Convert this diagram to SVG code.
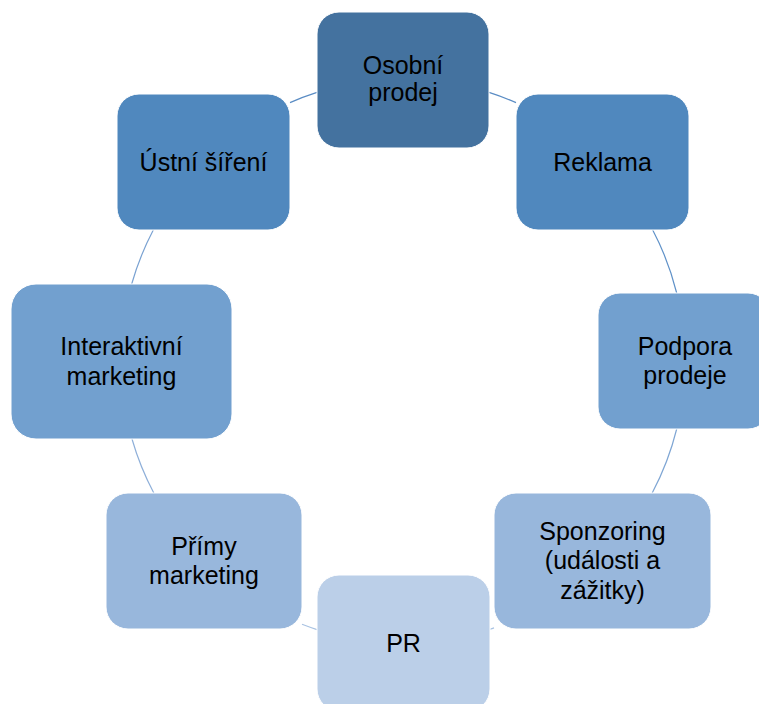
<svg xmlns="http://www.w3.org/2000/svg" width="759" height="704" viewBox="0 0 759 704">
<style>
.box{stroke:#ffffff;stroke-width:1}
.lbl{font-family:"Liberation Sans",Arial,sans-serif;font-size:25px;fill:#000;text-anchor:middle}
.arc{fill:none;stroke:#7DA3D1;stroke-width:1.2}
</style>
<rect width="759" height="704" fill="#ffffff"/>
<g id="connectors">
<path class="arc" style="stroke:#5A8CC4" d="M489,92.4 A282,282 0 0 1 516,102.6"/>
<path class="arc" style="stroke:#5F91C8" d="M652.7,230 A282,282 0 0 1 676.7,293"/>
<path class="arc" style="stroke:#7FA6D4" d="M676.7,429 A282,282 0 0 1 652.2,493"/>
<path class="arc" style="stroke:#A8C2E2" d="M494,627.9 A282,282 0 0 1 490,629.2"/>
<path class="arc" style="stroke:#A8C2E2" d="M317,629.6 A282,282 0 0 1 302,624.3"/>
<path class="arc" style="stroke:#8EAFD9" d="M153.8,493 A282,282 0 0 1 132,439"/>
<path class="arc" style="stroke:#7AA2D2" d="M131.7,284 A282,282 0 0 1 153.3,230"/>
<path class="arc" style="stroke:#5A8CC4" d="M290,102.6 A282,282 0 0 1 317,92.4"/>
</g>
<g id="osobni-prodej">
<rect class="box" x="317" y="12" width="172" height="136" rx="22" fill="#44729F"/>
<text class="lbl" x="403" y="73.5">Osobní</text>
<text class="lbl" x="403" y="101">prodej</text>
</g>
<g id="reklama">
<rect class="box" x="516" y="94" width="173" height="136" rx="22" fill="#5088BE"/>
<text class="lbl" x="602.5" y="171">Reklama</text>
</g>
<g id="podpora-prodeje">
<rect class="box" x="598" y="293" width="172" height="136" rx="22" fill="#72A0CF"/>
<text class="lbl" x="685" y="355">Podpora</text>
<text class="lbl" x="685" y="384">prodeje</text>
</g>
<g id="sponzoring">
<rect class="box" x="494" y="493" width="217" height="136" rx="22" fill="#98B7DC"/>
<text class="lbl" x="602.5" y="539.5">Sponzoring</text>
<text class="lbl" x="602.5" y="569">(události a</text>
<text class="lbl" x="602.5" y="598.5">zážitky)</text>
</g>
<g id="pr">
<rect class="box" x="317" y="575" width="173" height="136" rx="22" fill="#BBCFE8"/>
<text class="lbl" x="403.5" y="652">PR</text>
</g>
<g id="primy-marketing">
<rect class="box" x="106" y="493" width="196" height="136" rx="22" fill="#98B7DC"/>
<text class="lbl" x="204" y="554.5">Přímy</text>
<text class="lbl" x="204" y="584">marketing</text>
</g>
<g id="interaktivni-marketing">
<rect class="box" x="11" y="284" width="221" height="155" rx="25" fill="#72A0CF"/>
<text class="lbl" x="121.5" y="355">Interaktivní</text>
<text class="lbl" x="121.5" y="384.5">marketing</text>
</g>
<g id="ustni-sireni">
<rect class="box" x="117" y="94" width="173" height="136" rx="22" fill="#5088BE"/>
<text class="lbl" x="203.5" y="171">Ústní šíření</text>
</g>
</svg>
